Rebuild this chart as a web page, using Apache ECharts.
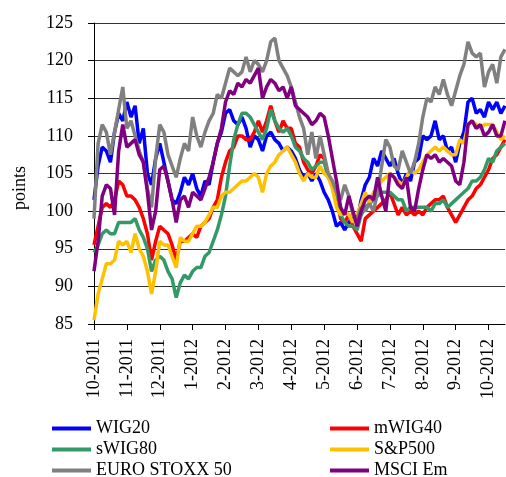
<!DOCTYPE html>
<html>
<head>
<meta charset="utf-8">
<script src="https://cdn.jsdelivr.net/npm/echarts@6/dist/echarts.min.js"></script>
<style>
  html, body { margin: 0; padding: 0; background: #fff; }
  #chart { width: 506px; height: 477px; }
</style>
</head>
<body>
<div id="chart"></div>
<script>
// Month tick labels; each month is split into 8 sampling steps.
const monthLabels = ['10-2011', '11-2011', '12-2011', '1-2012', '2-2012', '3-2012', '4-2012',
  '5-2012', '6-2012', '7-2012', '8-2012', '9-2012', '10-2012'];
const stepsPerMonth = 8;

// Index levels (points)
const wig20 = [101.5, 106, 108.5, 108, 106.5, 110.5, 113, 112, 114.5, 112.5, 114, 109, 111, 105, 103.5, 107,
  109, 106.5, 104, 101.5, 101, 102.5, 104.5, 103.5, 105, 103, 102, 104, 103.5, 106.5, 109, 110.5,
  113, 113.5, 112, 111.5, 112.5, 111, 108.5, 110, 109.5, 108, 110, 110.5, 109.5, 109, 108, 108.5,
  108, 107, 105.5, 104.5, 105, 104, 105, 104, 102.5, 101.5, 100, 98, 98.5, 97.5, 98.5, 99,
  98.5, 101.5, 103.5, 104.5, 107, 106, 108, 107, 106, 107, 105, 103.5, 105, 104, 106.5, 107,
  110, 109.5, 110, 112, 109.5, 110, 108, 108.5, 106.5, 109, 110.5, 114.5, 115, 113, 113.5, 112.5,
  114.5, 113.5, 114.5, 113, 114];

const mwig40 = [95.5, 98, 100.5, 101, 100.5, 101.5, 104, 103.5, 102, 102, 101.5, 100.5, 99, 97, 93.5, 96,
  98, 97.5, 97, 95.5, 93.5, 96, 96, 96.5, 97, 96.5, 98, 98.5, 99, 100.5, 101.5, 104.5,
  106.5, 108, 108.5, 110, 110, 109.5, 109.5, 110.5, 112, 110.5, 112, 114, 112, 110.5, 112, 111,
  111, 109, 108.5, 106.5, 105.5, 105, 106, 107.5, 107, 104.5, 103.5, 102, 99, 98.5, 99.5, 98,
  97, 96, 99, 99.5, 100, 100.5, 101, 101.5, 102.5, 101, 99.5, 100.5, 99.5, 100, 99.5, 100,
  99.5, 100.5, 101, 101.5, 101.5, 102, 100.5, 99.5, 98.5, 99.5, 100.5, 101.5, 102, 103, 103.5, 104.5,
  105.5, 107, 107.5, 108.5, 109.5];

const swig80 = [94.5, 95.5, 97, 97.5, 97, 97, 98.5, 98.5, 98.5, 98.5, 99, 97.5, 96.5, 95, 92, 93.5,
  94, 93.5, 92, 91, 88.5, 90.5, 91.5, 91, 92, 92.5, 92.5, 94, 94.5, 96, 97.5, 99.5,
  102, 106, 109.5, 111.5, 113, 113, 112.5, 111.5, 110.5, 109.5, 111, 113.5, 112, 111, 110.5, 111,
  110, 108.5, 108, 107, 106.5, 105.5, 106, 106.5, 106.5, 104.5, 104, 101, 99.5, 98.5, 98, 98,
  97.5, 99.5, 100.5, 101, 101.5, 102, 102.5, 102.5, 102.5, 102, 101.5, 101.5, 100, 100.5, 100.5, 100.5,
  100.5, 100.5, 100, 101, 101, 101.5, 100.5, 101, 101.5, 102, 102.5, 103, 104, 104, 104.5, 105.5,
  107, 106.5, 108, 108.5, 109];

const sp500 = [85.5, 89, 91, 93, 93, 93.5, 96, 95.5, 96, 94.5, 97, 95, 94, 92, 89, 92,
  96, 95.5, 95.5, 94, 92.5, 96.5, 96, 96, 97, 98, 98, 98.5, 99.5, 100.5, 100.5, 102,
  102.5, 102.5, 103, 103.5, 104, 104, 104.5, 105, 104.5, 102.5, 105, 106, 106.5, 107.5, 108, 108.5,
  107.5, 106.5, 105, 104, 105, 104.5, 104.5, 106, 105, 104.5, 103, 100.5, 99.5, 100, 99.5, 98.5,
  99.5, 101, 102.5, 101, 102.5, 103, 104, 104.5, 105, 104.5, 104, 103.5, 104.5, 105.5, 105, 105.5,
  106.5, 107.5, 108, 108.5, 108, 108.5, 108, 107.5, 107.5, 109.5, 109, 111.5, 112, 111.5, 111, 111.5,
  111.5, 111.5, 110.5, 109.5, 110];

const eurostoxx50 = [99, 109, 111.5, 110.5, 107.5, 110.5, 113.5, 116.5, 111, 112, 110, 108, 106.5, 103, 100.5, 107,
  111.5, 110.5, 107.5, 106, 104.5, 107, 109, 108, 112.5, 110, 108.5, 110.5, 112, 113, 115.5, 115,
  117, 119, 118.5, 118, 118.5, 120.5, 118.5, 120, 119.5, 118.5, 120, 122.5, 123, 120, 119, 118,
  116.5, 114.5, 112.5, 111, 107.5, 110.5, 107, 110, 107.5, 105, 104, 102.5, 101.5, 103.5, 102, 99.5,
  99, 100.5, 100, 101, 100, 102.5, 106, 109.5, 108.5, 106, 105.5, 108, 106.5, 105, 106.5, 109,
  112.5, 115, 114.5, 116.5, 115.5, 117.5, 115.5, 114, 116, 118, 119.5, 122.5, 121, 120.5, 121, 116.5,
  118.5, 119.5, 117, 120.5, 121.5];

const msciEm = [92, 96, 102, 103.5, 103, 99.5, 108, 111.5, 108.5, 109, 109.5, 107.5, 106.5, 102.5, 97.5, 100,
  105.5, 106, 104, 101.5, 98.5, 101.5, 102, 100.5, 102.5, 102, 101.5, 103, 104.5, 106.5, 109, 111,
  114.5, 116, 115.5, 117, 116.5, 117.5, 117, 118, 119, 115, 116.5, 117.5, 117, 116, 116.5, 115,
  116.5, 114, 113.5, 113, 112.5, 111.5, 112, 113, 112.5, 110, 107, 104, 100.5, 99.5, 102, 100,
  98, 100, 101.5, 102, 101.5, 104.5, 102, 100, 105, 104.5, 103.5, 103, 104.5, 100.5, 100, 103,
  105.5, 107.5, 107, 107.5, 106.5, 107, 106.5, 106, 104, 103.5, 106.5, 111.5, 112, 111, 111.5, 110,
  110.5, 111.5, 110, 110, 112];

const seriesDefs = [
  { name: 'WIG20', data: wig20, color: '#0000FF' },
  { name: 'mWIG40', data: mwig40, color: '#FF0000' },
  { name: 'sWIG80', data: swig80, color: '#339966' },
  { name: 'S&P500', data: sp500, color: '#FFC000' },
  { name: 'EURO STOXX 50', data: eurostoxx50, color: '#808080' },
  { name: 'MSCI Em', data: msciEm, color: '#800080' }
];

const categories = wig20.map((_, i) =>
  i % stepsPerMonth === 0 && monthLabels[i / stepsPerMonth] ? monthLabels[i / stepsPerMonth] : '');

const serif = 'Liberation Serif, Times New Roman, serif';
const isMonthStart = (i) => i % stepsPerMonth === 0;

const legendCommon = {
  orient: 'vertical',
  top: 418,
  height: 70,
  icon: 'rect',
  itemWidth: 39,
  itemHeight: 4,
  itemGap: 0,
  padding: 0,
  selectedMode: false,
  textStyle: { fontFamily: serif, fontSize: 18, color: '#000', lineHeight: 21 }
};

const chart = echarts.init(document.getElementById('chart'), null, { renderer: 'canvas' });
chart.setOption({
  animation: false,
  backgroundColor: '#fff',
  grid: { left: 94, right: 1, top: 23, bottom: 153, containLabel: false },
  legend: [
    Object.assign({ left: 52, data: ['WIG20', 'sWIG80', 'EURO STOXX 50'] }, legendCommon),
    Object.assign({ left: 330, data: ['mWIG40', 'S&P500', 'MSCI Em'] }, legendCommon)
  ],
  graphic: [{
    type: 'text',
    x: 20,
    y: 188,
    rotation: Math.PI / 2,
    style: {
      text: 'points',
      font: '18px ' + serif,
      fill: '#000',
      align: 'center',
      verticalAlign: 'middle'
    }
  }],
  xAxis: {
    type: 'category',
    data: categories,
    boundaryGap: false,
    axisLine: { lineStyle: { color: '#000', width: 1 } },
    axisTick: { show: true, length: 6, interval: isMonthStart, lineStyle: { color: '#000' } },
    axisLabel: {
      interval: isMonthStart,
      rotate: 90,
      margin: 15,
      fontFamily: serif,
      fontSize: 18,
      color: '#000'
    },
    splitLine: { show: false }
  },
  yAxis: {
    type: 'value',
    min: 85,
    max: 125,
    interval: 5,
    axisLine: { show: true, lineStyle: { color: '#000', width: 1 } },
    axisTick: { show: true, length: 6, lineStyle: { color: '#000' } },
    axisLabel: { margin: 21, fontFamily: serif, fontSize: 18, color: '#000' },
    splitLine: { show: true, lineStyle: { color: '#333', width: 1 } }
  },
  series: seriesDefs.map(s => ({
    name: s.name,
    type: 'line',
    data: s.data,
    symbol: 'none',
    smooth: false,
    color: s.color,
    lineStyle: { color: s.color, width: 3.5 },
    itemStyle: { color: s.color }
  }))
});
</script>
</body>
</html>
